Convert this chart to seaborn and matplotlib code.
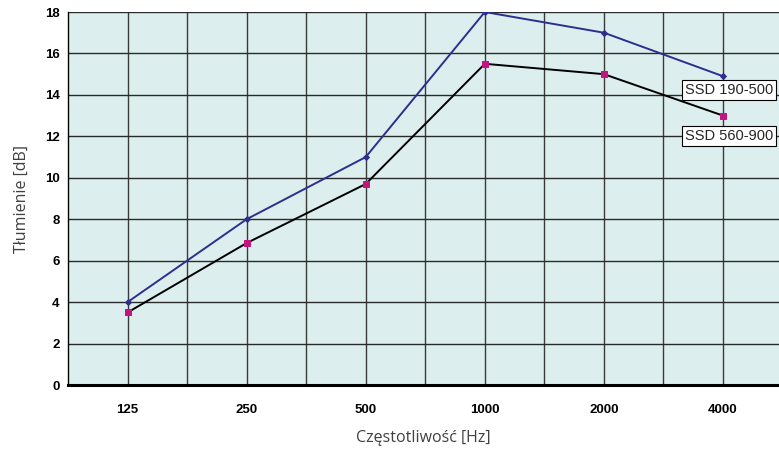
import pandas as pd
import matplotlib.pyplot as plt
import seaborn as sns

# frequencies (categorical axis) and attenuation values
freqs = ["125", "250", "500", "1000", "2000", "4000"]
ssd_190_500 = [4.0, 8.0, 11.0, 18.0, 17.0, 14.9]
ssd_560_900 = [3.5, 6.85, 9.7, 15.5, 15.0, 13.0]
y_ticks = [0, 2, 4, 6, 8, 10, 12, 14, 16, 18]

df = pd.DataFrame({
    "pos": list(range(len(freqs))) * 2,
    "val": ssd_190_500 + ssd_560_900,
    "series": ["SSD 190-500"] * len(freqs) + ["SSD 560-900"] * len(freqs),
})

sns.set_style("white")
plt.rcParams["font.family"] = ["Liberation Sans", "DejaVu Sans"]

fig = plt.figure(figsize=(7.79, 4.54), dpi=100)
ax = fig.add_axes([68 / 779, 1 - 385 / 454, 711 / 779, 373 / 454])
ax.set_facecolor("#ddeeee")

# black line with magenta squares
sns.lineplot(data=df[df.series == "SSD 560-900"], x="pos", y="val", ax=ax,
             color="black", lw=1.4, marker="s", markersize=5,
             markerfacecolor="#c2157f", markeredgecolor="#c2157f", zorder=4)
# navy line with small diamonds
sns.lineplot(data=df[df.series == "SSD 190-500"], x="pos", y="val", ax=ax,
             color="#2e2e8e", lw=1.4, marker="D", markersize=3,
             markerfacecolor="#2e2e8e", markeredgecolor="#2e2e8e", zorder=5)

ax.set_xlim(-0.5, 5.47)
ax.set_ylim(0, 18)

# gridlines at categories and halfway between them
grid_x = [i * 0.5 for i in range(11)]
ax.set_xticks(grid_x)
ax.set_xticklabels([freqs[i // 2] if i % 2 == 0 else "" for i in range(len(grid_x))])
for gx in grid_x:
    ax.axvline(gx, color="#3a3a3a", lw=1.0, zorder=1)
ax.set_yticks(y_ticks)
for gy in y_ticks[1:]:
    ax.axhline(gy, color="#2a2a2a", lw=1.0, zorder=1)

ax.tick_params(axis="x", length=4, width=0.8, color="#555555", pad=10,
               labelsize=9.5, labelcolor="black")
ax.tick_params(axis="y", length=3, width=0.8, color="#555555", pad=3,
               labelsize=9.5, labelcolor="black")
for lbl in ax.get_xticklabels() + ax.get_yticklabels():
    lbl.set_fontweight("bold")

for s in ["top", "right"]:
    ax.spines[s].set_visible(False)
ax.spines["bottom"].set_linewidth(2.2)
ax.spines["bottom"].set_color("black")
ax.spines["left"].set_linewidth(1.0)
ax.spines["left"].set_color("black")

ax.set_xlabel("Częstotliwość [Hz]", family="Open Sans", fontsize=11.5,
              color="#404040", labelpad=10)
ax.set_ylabel("Tłumienie [dB]", family="Open Sans", fontsize=11.5,
              color="#404040", labelpad=11)
if ax.legend_:
    ax.legend_.remove()

box = dict(boxstyle="square,pad=0.2", fc="white", ec="black", lw=0.8)
ax.text(4.68, 14.25, "SSD 190-500", fontsize=10.5, va="center", ha="left",
        bbox=box, zorder=6)
ax.text(4.68, 12.0, "SSD 560-900", fontsize=10.5, va="center", ha="left",
        bbox=box, zorder=6)

fig.savefig("out.png", dpi=100)
